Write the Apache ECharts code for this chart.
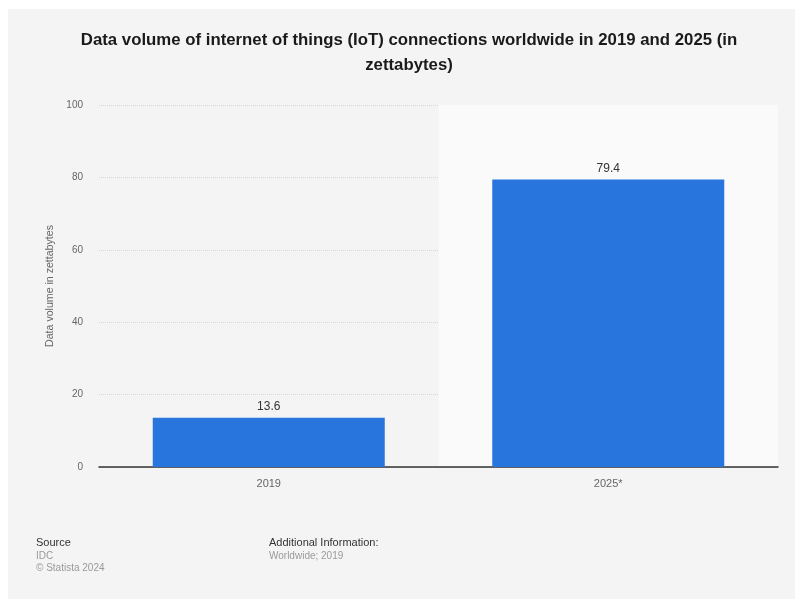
<!DOCTYPE html>
<html>
<head>
<meta charset="utf-8">
<style>
  html, body { margin: 0; padding: 0; background: #ffffff; }
  #chart { width: 795px; height: 599px; }
</style>
<script src="https://cdn.jsdelivr.net/npm/echarts@6/dist/echarts.min.js"></script>
</head>
<body>
<div id="chart"></div>
<script>
// Chart data
const categories = ['2019', '2025*'];
const volumes = [13.6, 79.4];
const yTicks = [0, 20, 40, 60, 80, 100];

const titleText = 'Data volume of internet of things (IoT) connections worldwide in 2019 and 2025 (in\nzettabytes)';
const yAxisName = 'Data volume in zettabytes';

const FONT = '"Liberation Sans", Arial, Helvetica, sans-serif';

const chart = echarts.init(document.getElementById('chart'), null, { renderer: 'canvas' });

chart.setOption({
  backgroundColor: '#ffffff',
  animation: false,
  graphic: [
    {
      type: 'rect', z: -10, silent: true,
      shape: { x: 8, y: 9, width: 795, height: 600 },
      style: { fill: '#f4f4f4' }
    },
    { type: 'text', left: 36, top: 537, style: { text: 'Source', fill: '#333333', font: '11px ' + FONT } },
    { type: 'text', left: 36, top: 551, style: { text: 'IDC', fill: '#9a9a9a', font: '10px ' + FONT } },
    { type: 'text', left: 36, top: 563, style: { text: '\u00A9 Statista 2024', fill: '#9a9a9a', font: '10px ' + FONT } },
    { type: 'text', left: 269, top: 537, style: { text: 'Additional Information:', fill: '#333333', font: '11px ' + FONT } },
    { type: 'text', left: 269, top: 551, style: { text: 'Worldwide; 2019', fill: '#9a9a9a', font: '10px ' + FONT } }
  ],
  title: {
    text: titleText,
    left: 404,
    top: 23,
    textAlign: 'center',
    textStyle: {
      fontFamily: FONT,
      fontSize: 16.8,
      fontWeight: 'bold',
      color: '#1a1a1a',
      lineHeight: 25
    }
  },
  grid: { left: 99, right: 17, top: 105, bottom: 132 },
  xAxis: {
    type: 'category',
    data: categories,
    axisLine: { show: true, lineStyle: { color: '#333333', width: 1.5 } },
    axisTick: { show: false },
    axisLabel: { color: '#666666', fontSize: 11, fontFamily: FONT, margin: 11 },
    splitLine: { show: false },
    splitArea: { show: true, areaStyle: { color: ['rgba(0,0,0,0)', '#fafafa'] } }
  },
  yAxis: {
    type: 'value',
    min: yTicks[0],
    max: yTicks[yTicks.length - 1],
    interval: yTicks[1] - yTicks[0],
    name: yAxisName,
    nameLocation: 'middle',
    nameRotate: 90,
    nameGap: 39,
    nameTextStyle: { color: '#666666', fontSize: 10.6, fontFamily: FONT },
    axisLine: { show: false },
    axisTick: { show: false },
    axisLabel: { color: '#666666', fontSize: 10, fontFamily: FONT, margin: 16 },
    splitLine: { show: true, lineStyle: { color: '#d6d6d6', type: 'dotted', width: 1 } }
  },
  series: [{
    type: 'bar',
    data: volumes,
    barWidth: 232,
    itemStyle: { color: '#2876dd' },
    label: {
      show: true,
      position: 'top',
      distance: 5,
      color: '#333333',
      fontSize: 12,
      fontFamily: FONT,
      formatter: p => p.value.toFixed(1)
    }
  }]
});
</script>
</body>
</html>
